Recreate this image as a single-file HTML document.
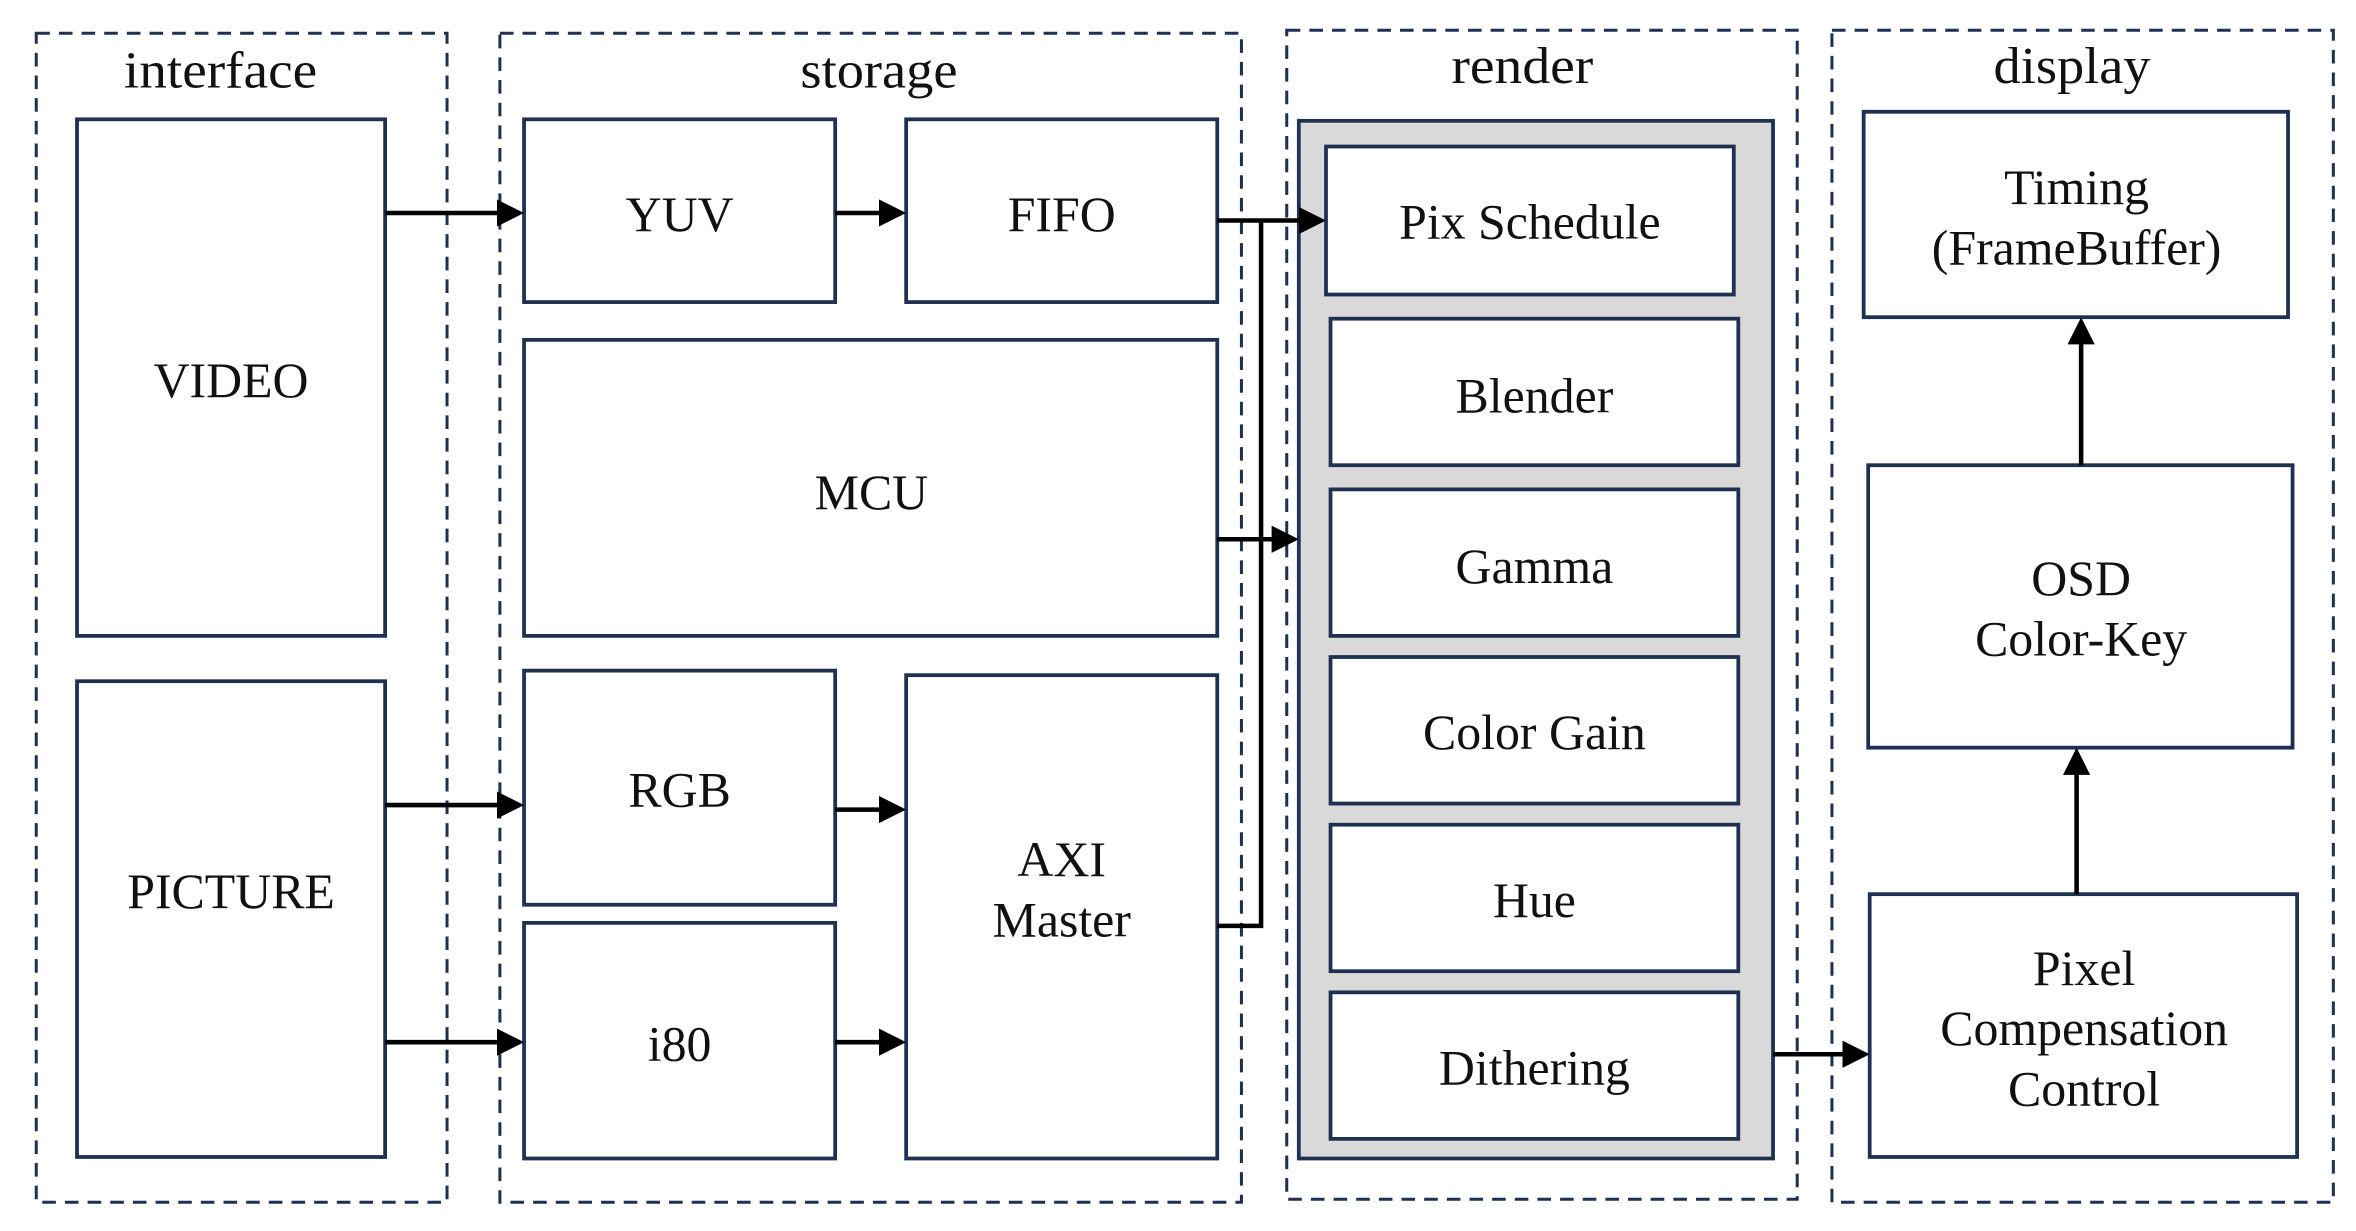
<!DOCTYPE html>
<html><head><meta charset="utf-8"><style>
html,body{margin:0;padding:0;background:#fff;}
svg{display:block;}
text{font-family:"Liberation Serif",serif;fill:#111;text-anchor:middle;}
</style></head><body>
<svg width="2356" height="1231" viewBox="0 0 1560 815" preserveAspectRatio="none" xmlns="http://www.w3.org/2000/svg">
<defs>
<marker id="a" markerWidth="6" markerHeight="6" refX="5" refY="3" orient="auto" markerUnits="strokeWidth"><path d="M0,0 L6,3 L0,6 z" fill="#000"/></marker>
</defs>
<g fill="none" stroke="#1f3050" stroke-width="2" stroke-dasharray="9 6">
<rect x="24" y="22" width="272" height="774"/>
<rect x="331" y="22" width="491" height="774"/>
<rect x="852" y="20" width="338" height="774"/>
<rect x="1213" y="20" width="332" height="776"/>
</g>
<g font-size="34">
<text x="146" y="58" textLength="128" lengthAdjust="spacingAndGlyphs">interface</text>
<text x="582" y="58" textLength="104" lengthAdjust="spacingAndGlyphs">storage</text>
<text x="1008" y="55" textLength="94" lengthAdjust="spacingAndGlyphs">render</text>
<text x="1372" y="55" textLength="104" lengthAdjust="spacingAndGlyphs">display</text>
</g>
<rect x="860" y="80" width="314" height="687" fill="#d9d9d9" stroke="#1f3050" stroke-width="2.5"/>
<g fill="#fff" stroke="#1f3050" stroke-width="2.5">
<rect x="51" y="79" width="204" height="342"/>
<rect x="51" y="451" width="204" height="315"/>
<rect x="347" y="79" width="206" height="121"/>
<rect x="600" y="79" width="206" height="121"/>
<rect x="347" y="225" width="459" height="196"/>
<rect x="347" y="444" width="206" height="155"/>
<rect x="347" y="611" width="206" height="156"/>
<rect x="600" y="447" width="206" height="320"/>
<rect x="878" y="97" width="270" height="98"/>
<rect x="881" y="211" width="270" height="97"/>
<rect x="881" y="324" width="270" height="97"/>
<rect x="881" y="435" width="270" height="97"/>
<rect x="881" y="546" width="270" height="97"/>
<rect x="881" y="657" width="270" height="97"/>
<rect x="1234" y="74" width="281" height="136"/>
<rect x="1237" y="308" width="281" height="187"/>
<rect x="1238" y="592" width="283" height="174"/>
</g>
<g font-size="33">
<text x="153" y="263">VIDEO</text>
<text x="153" y="601">PICTURE</text>
<text x="450" y="153">YUV</text>
<text x="703" y="153">FIFO</text>
<text x="577" y="337">MCU</text>
<text x="450" y="534">RGB</text>
<text x="450" y="702">i80</text>
<text x="703" y="580">AXI</text>
<text x="703" y="620">Master</text>
<text x="1013" y="158">Pix Schedule</text>
<text x="1016" y="273">Blender</text>
<text x="1016" y="386">Gamma</text>
<text x="1016" y="496">Color Gain</text>
<text x="1016" y="607">Hue</text>
<text x="1016" y="718">Dithering</text>
<text x="1375" y="135">Timing</text>
<text x="1375" y="175">(FrameBuffer)</text>
<text x="1378" y="394">OSD</text>
<text x="1378" y="434">Color-Key</text>
<text x="1380" y="652">Pixel</text>
<text x="1380" y="692">Compensation</text>
<text x="1380" y="732">Control</text>
</g>
<g stroke="#000" stroke-width="3" fill="none">
<line x1="255" y1="141" x2="344" y2="141" marker-end="url(#a)"/>
<line x1="553" y1="141" x2="597" y2="141" marker-end="url(#a)"/>
<line x1="806" y1="146" x2="875" y2="146" marker-end="url(#a)"/>
<polyline points="806,613 835,613 835,146"/>
<line x1="806" y1="357" x2="857" y2="357" marker-end="url(#a)"/>
<line x1="255" y1="533" x2="344" y2="533" marker-end="url(#a)"/>
<line x1="255" y1="690" x2="344" y2="690" marker-end="url(#a)"/>
<line x1="553" y1="536" x2="597" y2="536" marker-end="url(#a)"/>
<line x1="553" y1="690" x2="597" y2="690" marker-end="url(#a)"/>
<line x1="1174" y1="698" x2="1235" y2="698" marker-end="url(#a)"/>
<line x1="1375" y1="592" x2="1375" y2="498" marker-end="url(#a)"/>
<line x1="1378" y1="308" x2="1378" y2="213" marker-end="url(#a)"/>
</g>
</svg>
</body></html>
